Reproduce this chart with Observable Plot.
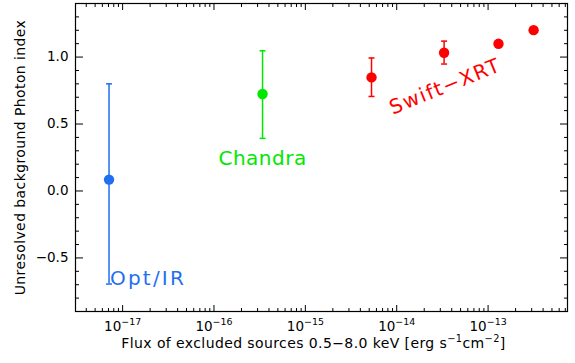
<!DOCTYPE html>
<html>
<head>
<meta charset="utf-8">
<script src="https://cdn.jsdelivr.net/npm/d3@7"></script>
<script src="https://cdn.jsdelivr.net/npm/@observablehq/plot@0.6"></script>
<style>
  html, body { margin: 0; padding: 0; background: white; }
</style>
</head>
<body>
<div id="chart"></div>
<script>
// ---- data ----
const sets   = ["Opt/IR", "Chandra", "Swift-XRT", "Swift-XRT", "Swift-XRT", "Swift-XRT"];
const flux   = [7.1e-18, 3.4e-16, 5.3e-15, 3.3e-14, 1.3e-13, 3.15e-13];
const gamma  = [0.085, 0.724, 0.848, 1.032, 1.099, 1.201];
const errLo  = [-0.695, 0.393, 0.706, 0.948, null, null];
const errHi  = [0.800, 1.047, 0.993, 1.119, null, null];

const setNames  = ["Opt/IR", "Chandra", "Swift-XRT"];
const setColors = ["#1f6ff0", "#00e800", "#ff0000"];

// series annotations (data coordinates)
const labelText = ["Opt/IR", "Chandra", "Swift\u2212XRT"];
const labelSet  = ["Opt/IR", "Chandra", "Swift-XRT"];
const labelX    = [7.1e-18, 3.4e-16, 3.4e-14];
const labelY    = [-0.70, 0.194, 0.78];
const labelSpacing = ["2.2px", "0.5px", "1.6px"];

// axes
const xMajor = [1e-17, 1e-16, 1e-15, 1e-14, 1e-13];
const yMajor = [-0.5, 0.0, 0.5, 1.0];
const xDomain = [3.05e-18, 7.4e-13];
const yDomain = [-0.9, 1.4];
const xTitle = "Flux of excluded sources 0.5\u22128.0 keV [erg s^{\u22121}cm^{\u22122}]";
const yTitle = "Unresolved background Photon index";

// minor ticks
const xMinor = [];
for (let e = -18; e <= -13; e++) for (let k = 2; k <= 9; k++) {
  const v = k * Math.pow(10, e);
  if (v > xDomain[0] && v < xDomain[1]) xMinor.push(v);
}
const yMinor = d3.range(-8, 14).map(i => i / 10).filter(v => !yMajor.some(m => Math.abs(m - v) < 1e-9));

const points = sets.map((s, i) => ({set: s, flux: flux[i], gamma: gamma[i], lo: errLo[i], hi: errHi[i]}));
const bars = points.filter(d => d.lo != null);
const labels = labelText.map((t, i) => ({text: t, set: labelSet[i], x: labelX[i], y: labelY[i]}));

const colorOf = s => setColors[setNames.indexOf(s)];
const supMinus = e => "10^{" + (e < 0 ? "\u2212" : "") + Math.abs(e) + "}";

const cap = {draw(ctx) { ctx.moveTo(-3, 0); ctx.lineTo(3, 0); }};

const chart = Plot.plot({
  width: 575,
  height: 363,
  marginLeft: 75,
  marginRight: 8,
  marginTop: 3,
  marginBottom: 52,
  style: {fontFamily: "DejaVu Sans", fontSize: "13px", background: "white", color: "black"},
  x: {type: "log", domain: xDomain},
  y: {domain: yDomain},
  marks: [
    // ticks (inward, mirrored)
    Plot.axisY(yMajor, {anchor: "left", tickSize: -8, tickPadding: 15, tickFormat: d3.format(".1f"), label: null, fontSize: 13.5}),
    Plot.axisY(yMinor, {anchor: "left", tickSize: -4, tickFormat: () => "", label: null}),
    Plot.axisY(yMajor, {anchor: "right", tickSize: -8, tickFormat: () => "", label: null}),
    Plot.axisY(yMinor, {anchor: "right", tickSize: -4, tickFormat: () => "", label: null}),
    Plot.axisX(xMajor, {anchor: "bottom", tickSize: -6, tickPadding: 16, tickFormat: d => supMinus(Math.round(Math.log10(d))), label: null, fontSize: 13.5}),
    Plot.axisX(xMinor, {anchor: "bottom", tickSize: -3, tickFormat: () => "", label: null}),
    Plot.axisX(xMajor, {anchor: "top", tickSize: -6, tickFormat: () => "", label: null}),
    Plot.axisX(xMinor, {anchor: "top", tickSize: -3, tickFormat: () => "", label: null}),
    Plot.frame({stroke: "black", strokeWidth: 1.2}),
    // titles
    Plot.text([xTitle], {frameAnchor: "bottom", dx: -8, dy: 36, lineAnchor: "bottom", textAnchor: "middle", fontSize: 14, text: d => d}),
    Plot.text([yTitle], {frameAnchor: "left", dx: -55, rotate: -90, lineAnchor: "middle", textAnchor: "middle", fontSize: 14, text: d => d}),
    // error bars
    Plot.ruleX(bars, {x: "flux", y1: "lo", y2: "hi", stroke: d => colorOf(d.set), strokeWidth: 1.5}),
    Plot.dot(bars, {x: "flux", y: "lo", symbol: cap, stroke: d => colorOf(d.set), fill: "none", strokeWidth: 1.5}),
    Plot.dot(bars, {x: "flux", y: "hi", symbol: cap, stroke: d => colorOf(d.set), fill: "none", strokeWidth: 1.5}),
    // points
    Plot.dot(points, {x: "flux", y: "gamma", r: 5.2, fill: d => colorOf(d.set), stroke: null}),
    // series labels
    Plot.text(labels.slice(0, 1), {x: "x", y: "y", text: "text", fill: d => colorOf(d.set), fontSize: 20, textAnchor: "start", lineAnchor: "bottom", dx: 1}),
    Plot.text(labels.slice(1, 2), {x: "x", y: "y", text: "text", fill: d => colorOf(d.set), fontSize: 20, textAnchor: "middle", lineAnchor: "bottom"}),
    Plot.text(labels.slice(2, 3), {x: "x", y: "y", text: "text", fill: d => colorOf(d.set), fontSize: 20, textAnchor: "middle", lineAnchor: "middle", rotate: -22})
  ]
});

const svgns = "http://www.w3.org/2000/svg";
function supify(el, fs) {
  const s = el.textContent;
  if (!s.includes("^{")) return;
  const parts = s.split(/\^\{([^}]*)\}/);
  el.textContent = "";
  const up = fs * 0.42;
  parts.forEach((p, i) => {
    if (!p) return;
    const t = document.createElementNS(svgns, "tspan");
    t.textContent = p;
    if (i % 2) { t.setAttribute("dy", -up); t.setAttribute("font-size", fs * 0.7); }
    else if (i > 0) t.setAttribute("dy", up);
    el.appendChild(t);
  });
}
chart.querySelectorAll("text").forEach(el => {
  const s = el.textContent;
  if (s === xTitle) { supify(el, 14); el.style.letterSpacing = "0.4px"; }
  else if (s.includes("^{")) supify(el, 13.5);
  else if (s === yTitle) el.style.letterSpacing = "0.4px";
  else {
    const i = labelText.indexOf(s);
    if (i >= 0) el.style.letterSpacing = labelSpacing[i];
  }
});

document.getElementById("chart").appendChild(chart);
</script>
</body>
</html>
